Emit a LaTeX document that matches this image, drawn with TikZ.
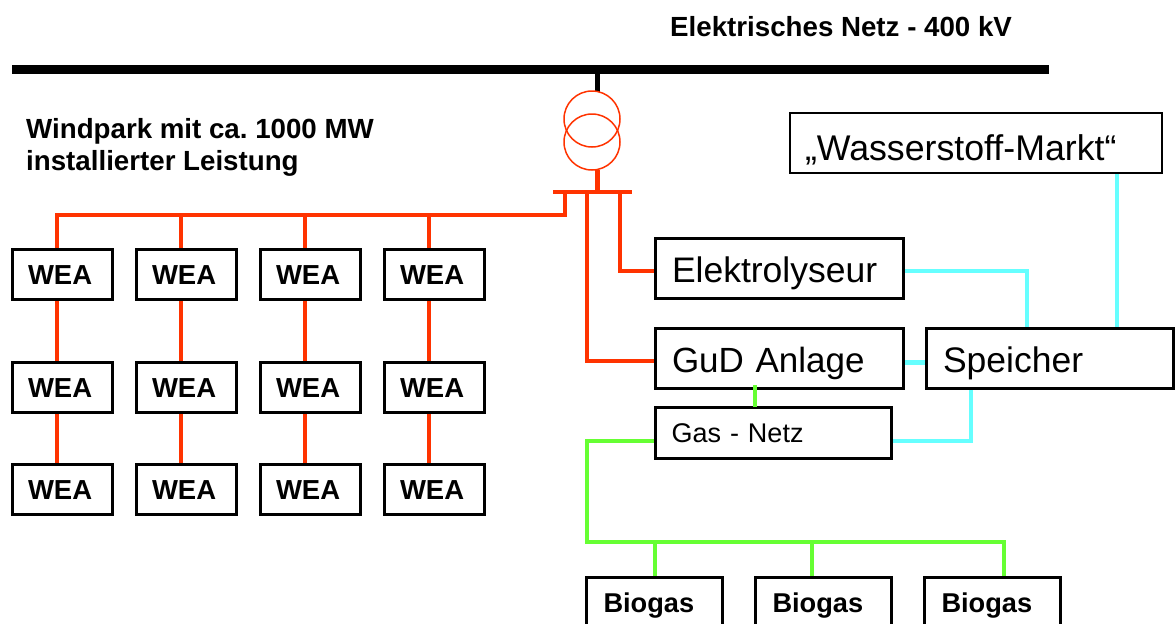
\documentclass[tikz,border=0pt]{standalone}
\usepackage{fontspec}
\setmainfont{Liberation Sans}
\frenchspacing
\pgfdeclarelayer{lines}
\pgfsetlayers{lines,main}
\definecolor{netred}{HTML}{FF3300}
\definecolor{netcyan}{HTML}{66FFFF}
\definecolor{netgreen}{HTML}{66FF33}
\tikzset{
  x=1pt,y=-1pt,
  bx/.style n args={4}{draw=black,fill=white,line width=3pt,outer sep=0pt,inner ysep=0pt,
    inner xsep=#3,minimum width=#1,minimum height=#2,text width=#1-2*#3,align=left,
    text height=2*#4,text depth=0pt},
  wea/.style={bx={100pt}{50pt}{16pt}{10pt},font=\fontsize{27.5}{30}\selectfont\bfseries},
  big/.style={bx={248pt}{60pt}{17pt}{14pt},font=\fontsize{35.5}{38}\selectfont},
  gas/.style={bx={236pt}{51pt}{16.5pt}{10pt},font=\fontsize{27}{30}\selectfont},
  market/.style={bx={372pt}{60pt}{15pt}{17pt},line width=1.5pt,font=\fontsize{35.7}{38}\selectfont},
  bio/.style={bx={136pt}{63pt}{17pt}{3.5pt},font=\fontsize{27.2}{30}\selectfont\bfseries},
  title/.style={inner sep=0pt,anchor=base west,font=\fontsize{27.7}{32}\selectfont\bfseries},
  trafo/.style={circle,draw=netred,line width=1.5pt,minimum size=56pt,inner sep=0pt,outer sep=0pt},
  red/.style={draw=netred,line width=4.5pt},
  cyan/.style={draw=netcyan,line width=4.5pt},
  green/.style={draw=netgreen,line width=4.5pt},
  black bar/.style={draw=black,line width=5pt},
}
\begin{document}
\begin{tikzpicture}
\useasboundingbox (0,0) rectangle (1176,624);
\clip (0,0) rectangle (1176,624);
% titles
\node[title] (t1) at (670,36) {Elektrisches Netz - 400 kV};
\node[title] (t2) at (26,138) {Windpark mit ca. 1000 MW};
\node[title] (t3) at (26,170) {installierter Leistung};
% WEA
\foreach \c/\x in {1/62,2/186,3/310,4/434}{
  \node[wea] (w1\c) at (\x,274.5) {WEA};
  \node[wea] (w2\c) at (\x,387) {WEA};
  \node[wea] (w3\c) at (\x,489) {WEA};
}
% plant boxes
\node[big] (elektro) at (779,268.5) {Elektrolyseur};
\node[big,font=\fontsize{35}{38}\selectfont] (gud) at (779,358.5) {GuD Anlage};
\node[big,minimum width=247pt,text width=213pt] (speicher) at (1049.5,358.5) {Speicher};
\node[gas] (gasnetz) at (773,432.5) {Gas - Netz};
\node[market] (markt) at (976,143) {„Wasserstoff-Markt“};
\node[bio] (b1) at (654.5,608.5) {Biogas};
\node[bio] (b2) at (823.5,608.5) {Biogas};
\node[bio] (b3) at (992.5,608.5) {Biogas};
% transformer
\node[trafo,fill=none] (tr1) at (592,119) {};
\node[trafo,fill=none] (tr2) at (592,142) {};
% junctions
\coordinate (busL) at (12,69);
\coordinate (busR) at (1049,69);
\coordinate (busT) at (597,69);
\coordinate (mvL) at (553,192);
\coordinate (mvR) at (632,192);
\coordinate (mvT) at (597,192);
\coordinate (feed) at (565,192);
\coordinate (feedB) at (565,215);
\coordinate (gud0) at (587,192);
\coordinate (el0) at (620,192);
\coordinate (gasB) at (587,542);
\coordinate (bioR) at (1004,542);
\begin{pgfonlayer}{lines}
  \draw[draw=black,line width=9pt] (busL) -- (busR);
  \draw[black bar] (busT) -- (597,92);
  \draw[red,line width=5pt] (597,170) -- (mvT);
  \draw[red] (mvL) -- (mvR);
  \draw[red] (feed) -- (feedB) -- (57,215) -- ([xshift=-5pt]w11.north);
  \foreach \c in {2,3,4}{
    \draw[red] ([xshift=-5pt]w1\c.north |- feedB) -- ([xshift=-5pt]w1\c.north);
  }
  \foreach \c in {1,2,3,4}{
    \draw[red] ([xshift=-5pt]w1\c.south) -- ([xshift=-5pt]w2\c.north);
    \draw[red] ([xshift=-5pt]w2\c.south) -- ([xshift=-5pt]w3\c.north);
  }
  \draw[red] (gud0) |- ([yshift=-2.5pt]gud.west);
  \draw[red] (el0) |- ([yshift=-2.5pt]elektro.west);
  \draw[cyan] ([yshift=-2.5pt]elektro.east) -| (1027,328);
  \draw[cyan] (markt.south -| 1117,0) -- (1117,328);
  \draw[cyan,line width=5pt] ([yshift=-3.5pt]gud.east) -- ([yshift=-3.5pt]speicher.west);
  \draw[cyan] (gasnetz.east |- 0,441) -| (971,389);
  \draw[green] (gasnetz.west |- 0,441) -| (gasB) -- (bioR) -- (bioR |- b3.north);
  \draw[green] (655,542) -- (655,577);
  \draw[green] (812,542) -- (812,577);
\end{pgfonlayer}
\draw[green] (755,385) -- (gasnetz.north -| 755,0);
\end{tikzpicture}
\end{document}
